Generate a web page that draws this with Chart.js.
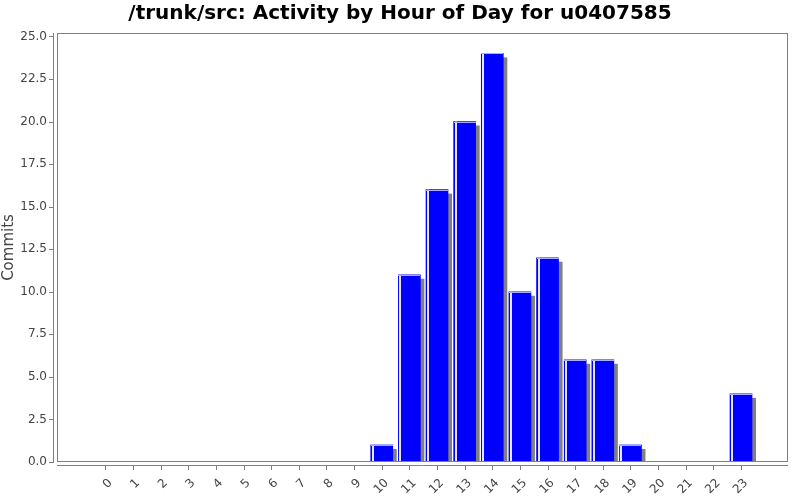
<!DOCTYPE html>
<html>
<head>
<meta charset="utf-8">
<script src="https://cdn.jsdelivr.net/npm/chart.js@4/dist/chart.umd.min.js"></script>
<style>
  html, body { margin: 0; padding: 0; background: #fff; }
</style>
</head>
<body>
<canvas id="c" width="800" height="500"></canvas>
<script>
/* Activity by hour of day — JFreeChart-like look */

var hours = [0, 1, 2, 3, 4, 5, 6, 7, 8, 9, 10, 11, 12, 13, 14, 15, 16, 17, 18, 19, 20, 21, 22, 23];
var commits = [0, 0, 0, 0, 0, 0, 0, 0, 0, 0, 1, 11, 16, 20, 24, 10, 12, 6, 6, 1, 0, 0, 0, 4];
var yTicks = [0, 2.5, 5, 7.5, 10, 12.5, 15, 17.5, 20, 22.5, 25];

var LINE = '#808080';
var TEXT = '#444444';
var FONT = 'DejaVu Sans';

var jfreeLook = {
  id: 'jfreeLook',
  beforeDatasetsDraw: function (chart) {
    var ctx = chart.ctx, a = chart.chartArea;
    var bars = chart.getDatasetMeta(0).data;
    ctx.save();
    ctx.beginPath();
    ctx.rect(a.left, a.top, a.right - a.left, a.bottom - a.top);
    ctx.clip();
    ctx.fillStyle = '#808080';
    bars.forEach(function (b, i) {
      if (!commits[i]) return;
      var left = b.x - b.width / 2;
      ctx.fillRect(left + 4, b.y + 4, b.width, b.base - b.y);
    });
    ctx.restore();
  },
  afterDatasetsDraw: function (chart) {
    var ctx = chart.ctx;
    var bars = chart.getDatasetMeta(0).data;
    ctx.save();
    bars.forEach(function (b, i) {
      if (!commits[i]) return;
      var left = Math.round(b.x - b.width / 2);
      ctx.fillStyle = 'rgba(255,255,255,0.9)';
      ctx.fillRect(left + 1, b.y, 2, b.base - b.y);
      ctx.fillStyle = 'rgba(170,170,255,1)';
      ctx.fillRect(left, Math.round(b.y), b.width, 1);
    });
    ctx.restore();
  },
  afterDraw: function (chart) {
    var ctx = chart.ctx, a = chart.chartArea;
    var xs = chart.scales.x, ys = chart.scales.y;
    ctx.save();
    ctx.strokeStyle = LINE;
    ctx.lineWidth = 1;
    // plot outline
    ctx.strokeRect(a.left + 0.5, a.top + 0.5, a.right - a.left - 1, a.bottom - a.top - 1);
    // axis lines, set off from the plot
    ctx.beginPath();
    ctx.moveTo(a.left - 3.5, a.top);
    ctx.lineTo(a.left - 3.5, a.bottom);
    ctx.moveTo(a.left, a.bottom + 3.5);
    ctx.lineTo(a.right, a.bottom + 3.5);
    yTicks.forEach(function (v) {
      var y = Math.round(ys.getPixelForValue(v)) + 0.5;
      ctx.moveTo(a.left - 8, y);
      ctx.lineTo(a.left - 3, y);
    });
    hours.forEach(function (h) {
      var x = Math.round(xs.getPixelForValue(h)) + 0.5;
      ctx.moveTo(x, a.bottom + 3);
      ctx.lineTo(x, a.bottom + 8);
    });
    ctx.stroke();
    ctx.restore();
  }
};

new Chart(document.getElementById('c'), {
  type: 'bar',
  data: {
    datasets: [{
      data: hours.map(function (h, i) { return { x: h, y: commits[i] }; }),
      backgroundColor: '#0000FF',
      borderWidth: 0,
      barThickness: 22
    }]
  },
  options: {
    responsive: false,
    animation: false,
    layout: { padding: 0 },
    plugins: {
      legend: { display: false },
      tooltip: { enabled: false },
      title: {
        display: true,
        text: '/trunk/src: Activity by Hour of Day for u0407585',
        color: '#000',
        font: { family: FONT, size: 20, weight: 'bold' },
        padding: { top: 2, bottom: 7 }
      }
    },
    scales: {
      x: {
        type: 'linear',
        min: -1.75,
        max: 24.7,
        offset: false,
        afterBuildTicks: function (s) { s.ticks = hours.map(function (h) { return { value: h }; }); },
        afterFit: function (s) { s.height = 38; },
        grid: { display: false, drawTicks: true, tickLength: 7 },
        border: { display: false },
        ticks: {
          autoSkip: false,
          minRotation: 45,
          maxRotation: 45,
          padding: 7,
          labelOffset: 5,
          color: TEXT,
          font: { family: FONT, size: 12 },
          callback: function (v) { return String(v); }
        }
      },
      y: {
        min: 0,
        max: 25.2,
        afterBuildTicks: function (s) { s.ticks = yTicks.map(function (v) { return { value: v }; }); },
        afterFit: function (s) { s.width = 57; },
        grid: { display: false, drawTicks: true, tickLength: 8 },
        border: { display: false },
        title: {
          display: true,
          text: 'Commits',
          color: TEXT,
          font: { family: FONT, size: 15 },
          padding: { top: 0, bottom: 0 }
        },
        ticks: {
          padding: 2,
          color: TEXT,
          font: { family: FONT, size: 12 },
          callback: function (v) { return v.toFixed(1); }
        }
      },
      // empty right-hand spacer so the plot stops 12px short of the edge
      spacer: {
        position: 'right',
        min: 0,
        max: 1,
        afterFit: function (s) { s.width = 12; },
        grid: { display: false, drawTicks: false },
        border: { display: false },
        ticks: { display: false }
      }
    }
  },
  plugins: [jfreeLook]
});
</script>
</body>
</html>
